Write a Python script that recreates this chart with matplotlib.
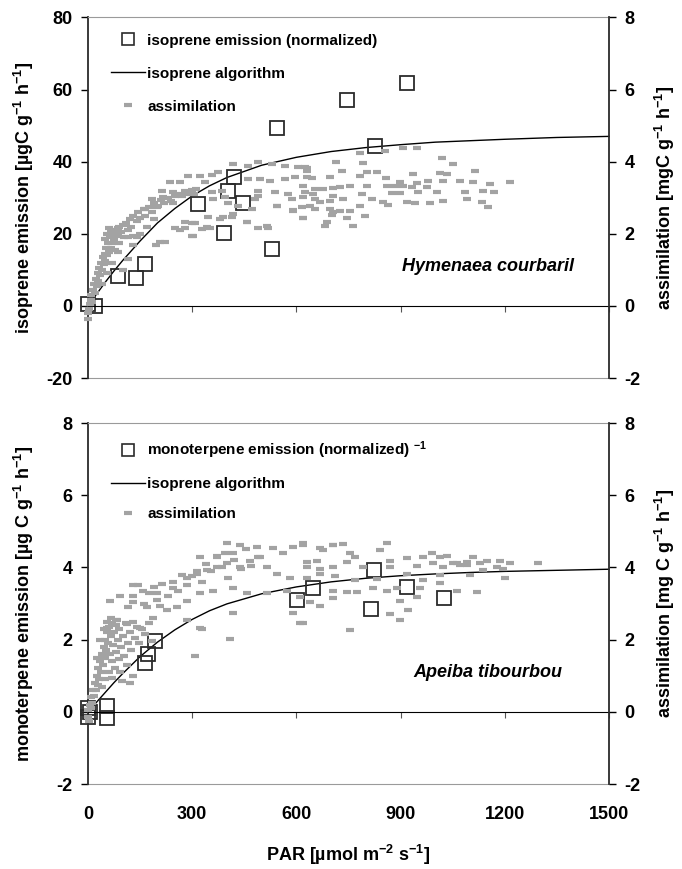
import matplotlib
matplotlib.use('Agg')
import matplotlib.pyplot as plt
from matplotlib.lines import Line2D

plt.rcParams['font.family'] = ['Liberation Sans', 'DejaVu Sans']
plt.rcParams['font.weight'] = 'bold'
plt.rcParams['axes.labelweight'] = 'bold'
plt.rcParams['axes.unicode_minus'] = False
plt.rcParams['mathtext.fontset'] = 'custom'
plt.rcParams['mathtext.rm'] = 'Liberation Sans'
plt.rcParams['mathtext.default'] = 'rm'

# ---------------- data ----------------
xticks = [0, 300, 600, 900, 1200, 1500]

# top panel: Hymenaea courbaril
top_emis_par = [0, 20, 86, 138, 164, 317, 392, 403, 420, 446, 530, 544, 746, 827, 918]
top_emis_val = [0.5, 0, 8.3, 7.8, 11.6, 28.3, 20.2, 31.9, 35.7, 28.5, 15.8, 49.4, 57.1, 44.3, 61.8]

top_algo_par = [0, 25, 50, 75, 100, 150, 200, 250, 300, 350, 400, 500, 600, 700, 800,
                900, 1000, 1100, 1200, 1350, 1500]
top_algo_val = [0, 3.3, 6.6, 9.7, 12.6, 18.0, 23.0, 27.0, 30.5, 33.3, 35.6, 39.0, 41.2, 42.8,
                43.9, 44.7, 45.4, 45.8, 46.2, 46.7, 47.0]

top_assim_par = [
    0, 0, 3, 5, 8, 10, 12, 15, 18, 20, 22, 25, 28, 30, 32, 35, 38, 40, 42, 45, 48, 50, 52, 55,
    58, 60, 62, 65, 68, 70, 72, 75, 78, 80, 85, 88, 90, 95, 100, 105, 110, 115, 120, 125, 130,
    140, 145, 150, 160, 165, 175, 185, 190, 200, 210, 220, 230, 240, 250, 260, 270, 280, 290,
    300, 305, 310,
    50, 55, 60, 65, 75, 80, 85, 115, 130, 140,
    40, 55, 70, 85, 100, 115, 130, 150, 170, 190, 207, 195,
    265, 300, 342, 303, 380, 418, 457, 515, 544, 590, 639, 688, 706,
    417, 461, 489, 530, 567, 605, 630, 288, 322, 357, 374, 236, 265, 337, 461, 495, 524, 567,
    596, 630, 213, 245, 279, 357, 386, 489, 538, 576, 625, 654, 184, 216, 360, 394, 481, 489,
    587, 619, 654, 164, 202, 245, 403, 432, 472, 544, 590, 616, 619, 345, 389, 415, 458, 279,
    308, 251, 279, 328, 351, 489, 518, 300, 222,
    907, 947, 855, 783, 1019, 1051, 714, 792, 625, 630, 731, 803, 832, 936, 1013, 1034, 1114,
    645, 697, 858, 783, 803, 754, 725, 898, 947, 979, 976, 1022, 1071, 1108, 1157, 1215, 619,
    677, 706, 861, 884, 907, 933, 648, 706, 789, 875, 898, 950, 1005, 1085, 1137, 1169, 668,
    697, 734, 818, 849, 918, 941, 985, 1022, 1091, 1134, 654, 697, 725, 754, 783, 864, 1152,
    619, 702, 797, 746, 682, 763]
top_assim_val = [
    -0.35, -0.2, -0.1, 0.05, 0.15, 0.3, 0.1, 0.45, 0.6, 0.35, 0.75, 0.55, 0.9, 0.7, 1.05, 0.85,
    1.2, 1.0, 1.35, 1.15, 1.45, 1.25, 1.6, 1.4, 1.75, 1.5, 1.9, 1.6, 1.95, 1.75, 2.05, 1.85,
    1.55, 2.1, 1.95, 2.2, 1.75, 2.05, 2.25, 1.9, 2.3, 2.1, 2.4, 2.2, 2.5, 2.35, 2.6, 2.45, 2.7,
    2.5, 2.75, 2.6, 2.85, 2.75, 2.95, 2.85, 3.0, 2.9, 3.05, 3.1, 3.05, 3.15, 3.1, 3.2, 3.1, 3.25,
    1.85, 2.0, 2.15, 2.05, 2.1, 2.0, 2.15, 1.9, 1.95, 1.9,
    0.6, 0.9, 1.2, 1.5, 1.0, 1.3, 1.7, 2.0, 2.2, 2.4, 1.77, 1.7,
    2.1, 2.3, 2.2, 1.94, 2.4, 2.55, 2.33, 2.22, 2.77, 2.63, 2.77, 2.33, 2.6,
    3.93, 3.88, 3.99, 3.93, 3.88, 3.85, 3.82, 3.6, 3.6, 3.63, 3.71, 3.43, 3.43, 3.43, 3.52,
    3.52, 3.46, 3.52, 3.57, 3.57, 3.19, 3.16, 3.19, 3.16, 3.19, 3.19, 3.16, 3.1, 3.16, 3.24,
    2.96, 3.02, 2.96, 3.02, 2.96, 3.05, 2.96, 3.02, 2.96, 2.69, 2.77, 2.85, 2.85, 2.77, 2.69,
    2.77, 2.66, 2.74, 2.44, 2.47, 2.47, 2.47, 2.33, 2.33, 2.3, 2.16, 2.16, 2.13, 2.16, 2.16,
    2.16, 1.94, 1.77,
    4.38, 4.38, 4.29, 4.24, 4.1, 3.93, 3.99, 3.96, 3.85, 3.74, 3.74, 3.71, 3.71, 3.66, 3.68,
    3.66, 3.74, 3.55, 3.57, 3.55, 3.6, 3.32, 3.32, 3.3, 3.43, 3.41, 3.46, 3.3, 3.46, 3.46, 3.43,
    3.38, 3.43, 3.32, 3.24, 3.27, 3.32, 3.32, 3.32, 3.3, 3.1, 3.05, 3.1, 3.13, 3.13, 3.16, 3.16,
    3.16, 3.19, 3.16, 2.88, 2.91, 2.96, 2.96, 2.88, 2.88, 2.85, 2.85, 2.91, 2.96, 2.88, 2.69,
    2.69, 2.63, 2.63, 2.77, 2.8, 2.74, 2.44, 2.52, 2.49, 2.44, 2.22, 2.22]

# bottom panel: Apeiba tibourbou
bot_emis_par = [0, 0, 5, 55, 55, 164, 173, 193, 601, 648, 823, 918, 815, 1025]
bot_emis_val = [0.1, -0.15, 0.0, 0.17, -0.17, 1.36, 1.6, 1.97, 3.1, 3.44, 3.92, 3.47, 2.86, 3.14]

bot_algo_par = top_algo_par
bot_algo_val = [0, 0.27, 0.54, 0.81, 1.06, 1.53, 1.93, 2.27, 2.56, 2.80, 2.99, 3.27, 3.46,
                3.60, 3.70, 3.77, 3.82, 3.86, 3.89, 3.92, 3.95]

bot_assim_par = [
    0, 0, 3, 5, 8, 10, 12, 15, 18, 20, 22, 25, 28, 30, 32, 35, 38, 40, 42, 45, 48, 50, 52, 55,
    58, 60, 62, 65, 68, 70, 72, 75, 78, 80, 82, 85, 88, 90, 92, 95, 98, 100, 105, 110, 112, 115,
    120, 125, 130, 135, 140, 148, 155, 165, 175, 184, 40, 50, 60, 70, 120, 130, 25, 35, 45, 55,
    65, 80,
    115, 130, 145, 160, 175, 190, 200, 213, 230, 245, 260, 270, 285, 300, 315, 328, 340, 355,
    370, 385, 394, 403, 420, 440, 455, 470, 489,
    400, 438, 322, 371, 417, 487, 533, 561, 590, 619, 668, 706, 130, 158, 199, 245, 285, 314,
    343, 371, 400, 438, 466, 495, 515, 544, 582, 630, 668, 63, 92, 130, 170, 207, 256, 285, 322,
    360, 417, 458, 515, 573, 610, 55, 83, 112, 150, 187, 227, 285, 322, 417, 590, 610, 328, 308,
    409,
    619, 706, 734, 861, 677, 841, 630, 659, 754, 769, 869, 918, 964, 990, 1013, 1034, 1062,
    1091, 1108, 1149, 1186, 1215, 1296, 746, 869, 947, 993, 1022, 1051, 1071, 1091, 1129, 1177,
    1195, 668, 706, 792, 630, 711, 769, 832, 918, 964, 1013, 1013, 1100, 1137, 1200, 706, 746,
    774, 821, 861, 890, 956, 1062, 1120, 639, 668, 706, 898, 947, 869, 921, 898, 754, 619]
bot_assim_val = [
    -0.15, 0.05, -0.25, 0.2, 0.1, 0.4, 0.25, 0.6, 0.45, 0.8, 0.6, 1.0, 0.75, 1.2, 0.9, 1.4, 1.1,
    1.6, 1.3, 1.8, 1.5, 2.0, 1.7, 2.2, 1.9, 2.35, 1.6, 2.1, 1.4, 2.45, 1.85, 2.2, 1.2, 2.4, 1.65,
    2.0, 1.45, 2.3, 1.1, 1.8, 0.86, 2.1, 1.55, 2.45, 1.3, 1.9, 2.2, 1.7, 2.5, 2.05, 2.35, 1.9,
    2.3, 2.15, 2.45, 1.97, 0.7, 0.9, 1.1, 0.95, 0.8, 1.0, 1.5, 2.0, 2.3, 2.5, 2.6, 2.55,
    2.9, 3.2, 3.5, 3.0, 3.3, 3.45, 3.1, 3.55, 3.2, 3.6, 3.35, 3.8, 3.5, 3.75, 3.9, 3.6, 4.1, 3.9,
    4.3, 4.0, 4.4, 3.7, 4.2, 3.95, 4.5, 4.05, 4.3,
    4.67, 4.61, 4.28, 4.33, 4.39, 4.56, 4.53, 4.39, 4.56, 4.61, 4.53, 4.61, 3.5, 3.36, 3.28,
    3.44, 3.72, 3.83, 3.92, 4.0, 4.11, 4.0, 4.19, 4.28, 4.0, 3.83, 3.72, 4.0, 3.83, 3.08, 3.22,
    3.03, 2.89, 2.94, 2.89, 3.08, 3.28, 3.36, 3.44, 3.28, 3.28, 3.36, 3.17, 2.33, 2.53, 2.44,
    2.33, 2.61, 2.81, 2.53, 2.33, 2.75, 2.75, 2.47, 2.3, 1.56, 2.03,
    4.67, 4.61, 4.64, 4.67, 4.47, 4.47, 4.14, 4.19, 4.39, 4.28, 4.19, 4.25, 4.28, 4.39, 4.28,
    4.31, 4.11, 4.14, 4.28, 4.19, 4.17, 4.11, 4.11, 4.14, 4.0, 4.03, 4.11, 4.0, 4.11, 4.08,
    4.06, 4.11, 4.0, 3.97, 3.97, 4.0, 4.0, 3.72, 3.75, 3.64, 3.69, 3.83, 3.64, 3.78, 3.58, 3.78,
    3.92, 3.72, 3.36, 3.31, 3.31, 3.42, 3.36, 3.42, 3.42, 3.36, 3.33, 3.03, 2.94, 3.14, 3.08,
    3.17, 2.72, 2.81, 2.53, 2.28, 2.47]

GRAY = '#a3a3a3'
DARK = '#2b2b2b'


def panel(ax, emis_par, emis_val, algo_par, algo_val, assim_par, assim_val,
          left_ticks, right_ticks, left_label, right_label, emis_label, species, bottom_labels,
          spacing):
    ax2 = ax.twinx()
    ax.plot(algo_par, algo_val, color='black', lw=1, clip_on=False)
    ax.plot(emis_par, emis_val, 's', ms=10, mfc='none', mec=DARK, mew=1.3, clip_on=False)
    ax2.plot(assim_par, assim_val, '_', ms=6, mew=3, color=GRAY, clip_on=False)

    ax.set_xlim(0, 1500)
    ax.set_ylim(left_ticks[0], left_ticks[-1])
    ax2.set_ylim(right_ticks[0], right_ticks[-1])
    ax.set_yticks(left_ticks)
    ax2.set_yticks(right_ticks)
    ax.set_xticks(xticks)

    ax.spines['bottom'].set_position(('data', 0))
    ax.spines['bottom'].set_color('black')
    ax.spines['top'].set_color('#9a9a9a')
    ax.spines['left'].set_color(DARK)
    ax.spines['left'].set_linewidth(1.3)
    ax.spines['right'].set_visible(False)
    for s in ['left', 'top', 'bottom']:
        ax2.spines[s].set_visible(False)
    ax2.spines['right'].set_color(DARK)
    ax2.spines['right'].set_linewidth(1.3)

    ax.tick_params(axis='x', direction='out', length=4, labelbottom=False, color='#555555')
    ax.tick_params(axis='y', direction='out', length=5, width=1, labelsize=13, pad=6)
    ax2.tick_params(axis='y', direction='out', length=5, width=1, labelsize=13, pad=6)

    sec = ax.secondary_xaxis(0.0)
    sec.set_xticks(xticks)
    sec.spines['bottom'].set_color('#9a9a9a')
    sec.tick_params(length=0, pad=16, labelsize=13, labelbottom=bottom_labels)

    ax.set_ylabel(left_label, fontsize=13)
    ax.yaxis.set_label_coords(-0.10, 0.5)
    ax2.set_ylabel(right_label, fontsize=13)
    ax2.yaxis.set_label_coords(1.085, 0.5)

    handles = [Line2D([], [], marker='s', ls='none', ms=9, mfc='none', mec=DARK, mew=1.2),
               Line2D([], [], color='black', lw=1),
               Line2D([], [], marker='_', ls='none', ms=6, mew=3, color=GRAY)]
    labels = [emis_label, 'isoprene algorithm', 'assimilation']
    ax2.legend(handles, labels, loc='upper left', bbox_to_anchor=(0.045, 0.955), frameon=False,
               prop={'weight': 'bold', 'size': 11}, handlelength=2.2, handletextpad=0.15,
               labelspacing=spacing, borderpad=0, borderaxespad=0)
    ax2.text(0.768, 0.31, species, transform=ax2.transAxes, ha='center', va='center',
             style='italic', weight='bold', size=13)
    return sec


fig = plt.figure(figsize=(6.82, 8.69), dpi=100)
ax_top = fig.add_axes([0.129, 0.565, 0.764, 0.415])
ax_bot = fig.add_axes([0.129, 0.0978, 0.764, 0.4154])

panel(ax_top, top_emis_par, top_emis_val, top_algo_par, top_algo_val, top_assim_par, top_assim_val,
      [-20, 0, 20, 40, 60, 80], [-2, 0, 2, 4, 6, 8],
      r'isoprene emission [µgC g$^{-1}$ h$^{-1}$]', r'assimilation [mgC g$^{-1}$ h$^{-1}$]',
      'isoprene emission (normalized)', 'Hymenaea courbaril', False, 1.25)

sec = panel(ax_bot, bot_emis_par, bot_emis_val, bot_algo_par, bot_algo_val, bot_assim_par,
            bot_assim_val, [-2, 0, 2, 4, 6, 8], [-2, 0, 2, 4, 6, 8],
            r'monoterpene emission [µg C g$^{-1}$ h$^{-1}$]', r'assimilation [mg C g$^{-1}$ h$^{-1}$]',
            r'monoterpene emission (normalized) $^{-1}$', 'Apeiba tibourbou', True, 1.05)
sec.set_xlabel(r'PAR [µmol m$^{-2}$ s$^{-1}$]', fontsize=13, labelpad=14)

fig.savefig('out.png', dpi=100)
